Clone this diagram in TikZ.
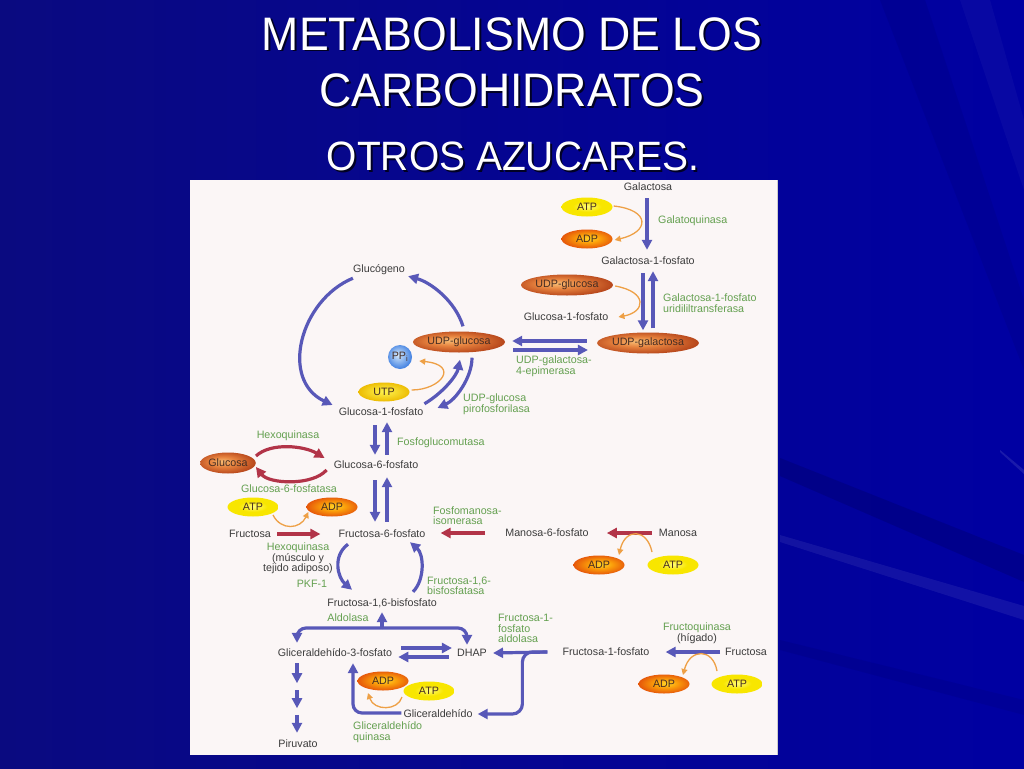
\documentclass[tikz,border=0pt]{standalone}
\usepackage{fontspec}
\setmainfont{Liberation Sans}
\usetikzlibrary{shapes.geometric,arrows.meta,calc}
\definecolor{bgA}{RGB}{10,10,128}
\definecolor{bgB}{RGB}{0,0,162}
\definecolor{panel}{RGB}{251,246,246}
\definecolor{metgray}{RGB}{60,60,60}
\definecolor{enzgreen}{RGB}{100,160,80}
\definecolor{arrblue}{RGB}{88,88,184}
\definecolor{arrred}{RGB}{178,52,72}
\definecolor{arrorange}{RGB}{238,160,70}
\definecolor{atpin}{RGB}{255,252,120}
\definecolor{atpout}{RGB}{248,230,0}
\definecolor{utpin}{RGB}{255,245,80}
\definecolor{utpout}{RGB}{236,186,0}
\definecolor{adpin}{RGB}{255,215,40}
\definecolor{adpmid}{RGB}{250,155,10}
\definecolor{adpout}{RGB}{228,82,10}
\definecolor{udpin}{RGB}{248,188,115}
\definecolor{udpmid}{RGB}{230,130,62}
\definecolor{udpout}{RGB}{184,72,28}
\definecolor{ppin}{RGB}{215,235,252}
\definecolor{ppout}{RGB}{65,128,225}
\definecolor{eltext}{RGB}{70,45,35}
\pgfdeclareradialshading{shUdp}{\pgfpoint{-6bp}{4bp}}{color(0bp)=(udpin); color(12bp)=(udpmid); color(27bp)=(udpout); color(50bp)=(udpout)}
\pgfdeclareradialshading{shAdp}{\pgfpoint{2bp}{2bp}}{color(0bp)=(adpin); color(12bp)=(adpmid); color(27bp)=(adpout); color(50bp)=(adpout)}
\pgfdeclareradialshading{shAtp}{\pgfpoint{0bp}{2bp}}{color(0bp)=(atpin); color(14bp)=(atpout); color(50bp)=(atpout)}
\pgfdeclareradialshading{shUtp}{\pgfpoint{0bp}{2bp}}{color(0bp)=(utpin); color(12bp)=(utpin!55!utpout); color(26bp)=(utpout); color(50bp)=(utpout)}
\pgfdeclareradialshading{shPp}{\pgfpoint{-5bp}{5bp}}{color(0bp)=(ppin); color(27bp)=(ppout); color(50bp)=(ppout)}
\begin{document}
\begin{tikzpicture}[x=1pt,y=-1pt,
  met/.style={font=\fontsize{10.7}{12}\selectfont, text=metgray, inner sep=0pt, text height=8pt, text depth=2pt},
  enz/.style={font=\fontsize{10.7}{10.5}\selectfont, text=enzgreen, inner sep=0pt, align=left},
  enzc/.style={font=\fontsize{10.7}{10.5}\selectfont, text=enzgreen, inner sep=0pt, align=center},
  bl/.style={draw=arrblue, line width=3.2pt, -{Triangle[length=10pt,width=10pt]}},
  rd/.style={draw=arrred, line width=3.2pt, -{Triangle[length=10pt,width=10pt]}},
  og/.style={draw=arrorange, line width=1.3pt, -{Triangle[length=6pt,width=6pt]}},
  elbase/.style={ellipse, inner sep=0pt, font=\fontsize{10.7}{12}\selectfont, text=eltext},
  atp/.style={elbase, minimum width=51pt, minimum height=19pt, shading=shAtp},
  utp/.style={elbase, minimum width=51pt, minimum height=19pt, shading=shUtp},
  adp/.style={elbase, minimum width=51pt, minimum height=19pt, shading=shAdp},
  udp/.style={elbase, minimum width=92pt, minimum height=21pt, shading=shUdp},
  glcs/.style={elbase, minimum width=55pt, minimum height=21pt, shading=shUdp},
  pp/.style={circle, inner sep=0pt, minimum size=24pt, font=\fontsize{10.7}{12}\selectfont, text=eltext, shading=shPp},
  ttl/.style={font=\fontsize{47}{50}\selectfont, anchor=base, inner sep=0pt},
  ttls/.style={font=\fontsize{41}{44}\selectfont, anchor=base, inner sep=0pt}
]
\useasboundingbox (0,0) rectangle (1024,768);
% background
\fill[left color=bgA, right color=bgB] (0,0) rectangle (1024,768);
\fill[black, opacity=0.12] (780,458) -- (1024,555) -- (1024,582) -- (780,476) -- cycle;
\fill[white, opacity=0.07] (780,535) -- (1024,606) -- (1024,620) -- (780,542) -- cycle;
\fill[white, opacity=0.10] (1000,450) -- (1024,470) -- (1024,474) -- (1000,452) -- cycle;
\fill[black, opacity=0.06] (880,0) -- (925,0) -- (1024,300) -- (1024,370) -- cycle;
\fill[white, opacity=0.03] (960,0) -- (990,0) -- (1024,120) -- (1024,190) -- cycle;
\fill[black, opacity=0.06] (780,640) -- (1024,700) -- (1024,715) -- (780,650) -- cycle;
% title
\node[ttl, text=black, opacity=0.75] (t1s) at (514,52) {\scalebox{0.95}[1]{METABOLISMO DE LOS}};
\node[ttl, text=white] (t1) at (512,50) {\scalebox{0.95}[1]{METABOLISMO DE LOS}};
\node[ttl, text=black, opacity=0.75] (t2s) at (514,108) {\scalebox{0.95}[1]{CARBOHIDRATOS}};
\node[ttl, text=white] (t2) at (512,106) {\scalebox{0.95}[1]{CARBOHIDRATOS}};
\node[ttls, text=black, opacity=0.75] (t3s) at (515,172) {\scalebox{0.95}[1]{OTROS AZUCARES.}};
\node[ttls, text=white] (t3) at (513,170) {\scalebox{0.95}[1]{OTROS AZUCARES.}};
% panel
\fill[panel] (190,180) rectangle (778,755);
\draw[black!20, line width=0.8pt] (777,180) -- (777,755);

% ---------- galactose ----------
\node[met] (gal) at (648,187) {Galactosa};
\node[atp] (atp1) at (587,207) {ATP};
\node[adp] (adp1) at (587,239) {ADP};
\node[enz, anchor=west] (galk) at (658,221) {Galatoquinasa};
\node[met] (gal1p) at (648,261) {Galactosa-1-fosfato};
\node[udp] (udpglc2) at (567,285) {UDP-glucosa};
\node[met] (g1p2) at (566,317) {Glucosa-1-fosfato};
\node[enz, anchor=west] (galt) at (663,303) {Galactosa-1-fosfato\\uridililtransferasa};
\node[udp] (udpgal) at (648,343) {UDP-galactosa};
\node[enz, anchor=west] (epi) at (516,366) {UDP-galactosa-\\4-epimerasa};

\draw[bl] ($(gal.south)+(-1,6)$) -- ($(gal1p.north)+(-1,-6)$);
\draw[bl] ($(gal1p.south)+(-5,7)$) -- ($(udpgal.north)+(-5,-2)$);
\draw[bl] ($(udpgal.north)+(5,-4)$) -- ($(gal1p.south)+(5,5)$);
\draw[og] ($(atp1.east)+(1,-1)$) .. controls +(37,4) and +(35,-8) .. ($(adp1.east)+(2,1)$);
\draw[og] ($(udpglc2.east)+(2,1)$) .. controls +(33,6) and +(27,-5) .. ($(g1p2.east)+(10,0)$);

% ---------- glycogen ----------
\node[met] (glyc) at (379,269) {Glucógeno};
\node[udp] (udpglc) at (459,342) {UDP-glucosa};
\node[pp] (ppi) at (400,357) {PP\textsubscript{i}};
\node[utp] (utp) at (384,392) {UTP};
\node[met] (g1p) at (381,412) {Glucosa-1-fosfato};
\node[enz, anchor=west] (ugp) at (463,404) {UDP-glucosa\\pirofosforilasa};

\draw[bl] ($(udpgal.west)+(-10,-2)$) -- ($(udpglc.east)+(7,-1)$);
\draw[bl] ($(udpglc.east)+(8,8)$) -- ($(udpgal.west)+(-9,7)$);

\draw[bl] ($(glyc.south west)+(0,4)$) .. controls +(-53,22) and +(-53,-25) .. ($(g1p.west)+(-6,-7)$);
\draw[bl] ($(udpglc.north)+(4,-5)$) .. controls +(-8,-26) and +(22,6) .. ($(glyc.south east)+(3,2)$);
\draw[bl] ($(g1p.north east)+(1,-3)$) .. controls +(20,-12) and +(-3,15) .. ($(udpglc.south)+(1,7)$);
\draw[bl] ($(udpglc.south)+(13,5)$) .. controls +(0,20) and +(18,-8) .. ($(g1p.east)+(14,-4)$);
\draw[og] ($(utp.east)+(2,-2)$) .. controls +(29,0) and +(41,4) .. ($(ppi.east)+(7,4)$);

% ---------- glucose / G6P ----------
\node[met] (g6p) at (376,465) {Glucosa-6-fosfato};
\node[enz, anchor=west] (pgm) at (397,443) {Fosfoglucomutasa};
\draw[bl] ($(g1p.south)+(-6,8)$) -- ($(g6p.north)+(-1,-5)$);
\draw[bl] ($(g6p.north)+(11,-5)$) -- ($(g1p.south)+(6,5)$);

\node[enzc] (hk1) at (288,436) {Hexoquinasa};
\node[glcs] (glc) at (228,463) {Glucosa};
\node[enzc] (g6pase) at (289,489) {Glucosa-6-fosfatasa};
\draw[rd] ($(glc.east)+(0,-7)$) .. controls +(15,-14) and +(-20,-12) .. ($(g6p.west)+(-9,-7)$);
\draw[rd] ($(g6p.west)+(-7,5)$) .. controls +(-14,16) and +(13,17) .. ($(glc.east)+(0,4)$);

% ---------- fructose-6-P ----------
\node[met] (f6p) at (382,534) {Fructosa-6-fosfato};
\draw[bl] ($(g6p.south)+(-1,10)$) -- ($(f6p.north)+(-7,-7)$);
\draw[bl] ($(f6p.north)+(5,-7)$) -- ($(g6p.south)+(11,7)$);

\node[atp] (atp2) at (253,507) {ATP};
\node[adp] (adp2) at (332,507) {ADP};
\node[met] (fru1) at (250,534) {Fructosa};
\draw[rd] ($(fru1.east)+(6,0)$) -- ($(f6p.west)+(-18,0)$);
\draw[og] ($(atp2.center)+(20,8)$) .. controls +(8,16) and +(-8,17) .. ($(adp2.west)+(2,5)$);
\node[enzc] (hk2) at (298,558.5) {Hexoquinasa\\{\color{metgray}(músculo y}\\{\color{metgray}tejido adiposo)}};

\node[enzc] (pfk) at (312,584) {PKF-1};
\node[met] (f16bp) at (382,603) {Fructosa-1,6-bisfosfato};
\node[enz, anchor=west] (fbpase) at (427,586) {Fructosa-1,6-\\bisfosfatasa};
\draw[bl] ($(f6p.south)+(-34,5)$) .. controls +(-16,12) and +(-14,-12) .. ($(f16bp.north)+(-30,-8)$);
\draw[bl] ($(f16bp.north)+(31,-6)$) .. controls +(12,-12) and +(14,12) .. ($(f6p.south)+(28,3)$);

% ---------- mannose ----------
\node[enz, anchor=west] (pmi) at (433,515.5) {Fosfomanosa-\\isomerasa};
\node[met] (m6p) at (547,533) {Manosa-6-fosfato};
\node[met] (man) at (678,533) {Manosa};
\node[adp] (adp3) at (599,565) {ADP};
\node[atp] (atp3) at (673,565) {ATP};
\draw[rd] ($(m6p.west)+(-20,0)$) -- ($(f6p.east)+(15,-1)$);
\draw[rd] ($(man.west)+(-7,0)$) -- ($(m6p.east)+(18,0)$);
\draw[og] ($(atp3.center)+(-21,-13)$) .. controls +(-5,-24) and +(6,-27) .. ($(adp3.center)+(20,-10)$);

% ---------- aldolase ----------
\node[enzc] (ald) at (348,618) {Aldolasa};
\node[met] (g3p) at (335,653) {Gliceraldehído-3-fosfato};
\node[met] (dhap) at (472,653) {DHAP};
\coordinate (split) at (382,628);
\draw[bl] (split) -- ($(f16bp.south)+(0,4)$);
\draw[bl, rounded corners=9pt] (split) -| ($(g3p.north)+(-38,-5)$);
\draw[bl, rounded corners=9pt] (split) -| ($(dhap.north)+(-5,-3)$);
\draw[bl] ($(g3p.east)+(9,-5)$) -- ($(dhap.west)+(-5,-5)$);
\draw[bl] ($(dhap.west)+(-8,4)$) -- ($(g3p.east)+(6,4)$);

% ---------- fructose-1-P ----------
\node[enz, anchor=west] (f1pald) at (498,628.5) {Fructosa-1-\\fosfato\\aldolasa};
\node[met] (f1p) at (606,652) {Fructosa-1-fosfato};
\node[met] (glyald) at (438,714) {Gliceraldehído};
\draw[bl] ($(f1p.west)+(-15,0)$) -- ($(dhap.east)+(6,0)$);
\draw[bl, rounded corners=10pt] ($(f1p.west)+(-15,0)$) -- ($(f1p.west)+(-40,0)$) |- ($(glyald.east)+(5,0)$);
\draw[bl, rounded corners=9pt] ($(glyald.west)+(-2,-1)$) -| ($(g3p.south)+(18,5)$);

\node[adp] (adp4) at (383,681) {ADP};
\node[atp] (atp4) at (429,691) {ATP};
\draw[og] ($(atp4.center)+(-27,6)$) .. controls +(-4,14) and +(6,18) .. ($(adp4.center)+(-15,12)$);
\node[enz, anchor=west] (gk) at (353,732) {Gliceraldehído\\quinasa};

\node[met] (pyr) at (298,744) {Piruvato};
\draw[bl] ($(g3p.south)+(-38,5)$) -- ($(g3p.south)+(-38,25)$);
\draw[bl] ($(g3p.south)+(-38,32)$) -- ($(g3p.south)+(-38,50)$);
\draw[bl] ($(pyr.north)+(-1,-24)$) -- ($(pyr.north)+(-1,-6)$);

% ---------- fructokinase ----------
\node[enzc] (fk) at (697,633) {Fructoquinasa\\{\color{metgray}(hígado)}};
\node[met] (fru2) at (746,652) {Fructosa};
\node[adp] (adp5) at (664,684) {ADP};
\node[atp] (atp5) at (737,684) {ATP};
\draw[bl] ($(fru2.west)+(-5,0)$) -- ($(f1p.east)+(16,0)$);
\draw[og] ($(atp5.center)+(-20,-13)$) .. controls +(-4,-23) and +(7,-27) .. ($(adp5.center)+(19,-9)$);
\end{tikzpicture}
\end{document}
